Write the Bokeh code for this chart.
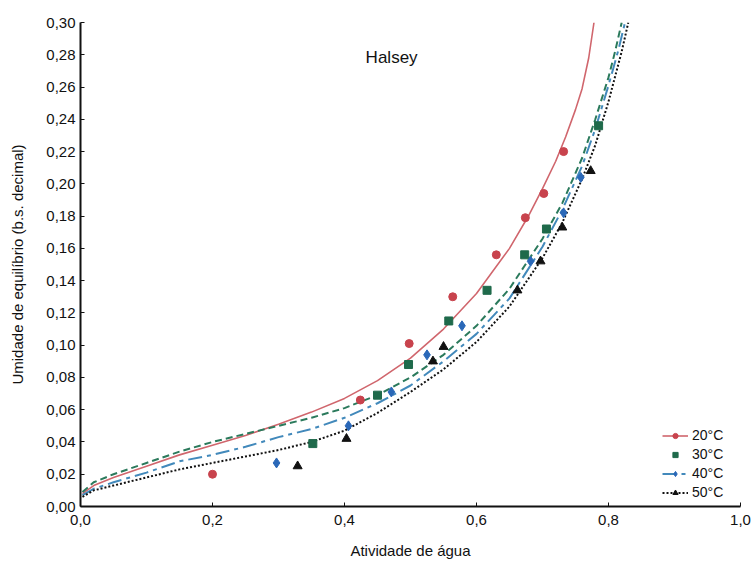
from bokeh.plotting import figure
from bokeh.models import Range1d, CustomJSTickFormatter, Label, Legend, LegendItem, FixedTicker
from bokeh.embed import file_html
from bokeh.resources import INLINE

# Experimental points: water activity (aw) and equilibrium moisture (d.b.)
aw_20 = [0.200, 0.424, 0.498, 0.564, 0.630, 0.674, 0.702, 0.732]
x_20 = [0.020, 0.066, 0.101, 0.130, 0.156, 0.179, 0.194, 0.220]

aw_30 = [0.352, 0.450, 0.497, 0.558, 0.616, 0.673, 0.706, 0.785]
x_30 = [0.039, 0.069, 0.088, 0.115, 0.134, 0.156, 0.172, 0.236]

aw_40 = [0.297, 0.406, 0.471, 0.525, 0.578, 0.682, 0.732, 0.758]
x_40 = [0.027, 0.050, 0.071, 0.094, 0.112, 0.152, 0.182, 0.204]

aw_50 = [0.329, 0.403, 0.534, 0.550, 0.662, 0.697, 0.730, 0.773]
x_50 = [0.025, 0.042, 0.090, 0.099, 0.134, 0.152, 0.173, 0.208]

# Halsey model curves
c_aw_20 = [0.003, 0.02, 0.05, 0.10, 0.15, 0.20, 0.25, 0.30, 0.35, 0.40, 0.45, 0.50,
           0.55, 0.60, 0.65, 0.68, 0.70, 0.72, 0.735, 0.75, 0.76, 0.77, 0.778]
c_x_20 = [0.008, 0.013, 0.018, 0.025, 0.032, 0.038, 0.044, 0.051, 0.0585, 0.067, 0.078, 0.092,
          0.110, 0.132, 0.160, 0.181, 0.197, 0.214, 0.229, 0.246, 0.259, 0.278, 0.300]

c_aw_30 = [0.003, 0.02, 0.05, 0.10, 0.15, 0.20, 0.25, 0.30, 0.35, 0.40, 0.45, 0.50,
           0.55, 0.60, 0.65, 0.70, 0.73, 0.76, 0.78, 0.80, 0.81, 0.82]
c_x_30 = [0.009, 0.015, 0.020, 0.027, 0.034, 0.040, 0.045, 0.050, 0.055, 0.061, 0.069, 0.080,
          0.094, 0.112, 0.135, 0.166, 0.188, 0.216, 0.240, 0.266, 0.282, 0.300]

c_aw_40 = [0.003, 0.02, 0.05, 0.10, 0.15, 0.20, 0.25, 0.30, 0.35, 0.40, 0.45, 0.50,
           0.55, 0.60, 0.65, 0.70, 0.73, 0.76, 0.78, 0.80, 0.815, 0.825]
c_x_40 = [0.007, 0.011, 0.015, 0.021, 0.028, 0.032, 0.037, 0.043, 0.048, 0.055, 0.064, 0.075,
          0.090, 0.107, 0.129, 0.161, 0.184, 0.211, 0.234, 0.261, 0.283, 0.300]

c_aw_50 = [0.003, 0.02, 0.05, 0.10, 0.15, 0.20, 0.25, 0.30, 0.35, 0.40, 0.45, 0.50,
           0.55, 0.60, 0.65, 0.70, 0.73, 0.76, 0.78, 0.80, 0.82, 0.83]
c_x_50 = [0.006, 0.010, 0.013, 0.018, 0.023, 0.027, 0.031, 0.035, 0.040, 0.047, 0.058, 0.071,
          0.085, 0.102, 0.124, 0.154, 0.176, 0.203, 0.224, 0.251, 0.282, 0.300]

x_ticks = [0.0, 0.2, 0.4, 0.6, 0.8, 1.0]
y_ticks = [0.00, 0.02, 0.04, 0.06, 0.08, 0.10, 0.12, 0.14, 0.16, 0.18, 0.20,
           0.22, 0.24, 0.26, 0.28, 0.30]

FONT = "Liberation Sans"

p = figure(width=755, height=562, output_backend="svg", toolbar_location=None,
           x_range=Range1d(0, 1), y_range=Range1d(0, 0.30),
           min_border_left=80, min_border_right=15, min_border_top=22, min_border_bottom=56)
p.outline_line_color = None
p.grid.visible = False
p.background_fill_color = "white"
p.border_fill_color = "white"

for ax in (p.xaxis[0], p.yaxis[0]):
    ax.axis_line_color = "#111111"
    ax.axis_line_width = 2
    ax.major_tick_line_color = "#111111"
    ax.major_tick_in = 4
    ax.major_tick_out = 0
    ax.minor_tick_line_color = None
    ax.major_label_text_font = FONT
    ax.major_label_text_font_size = "15px"
    ax.major_label_text_color = "#111111"
    ax.axis_label_text_font = FONT
    ax.axis_label_text_font_size = "15px"
    ax.axis_label_text_font_style = "normal"
    ax.axis_label_text_color = "#111111"

p.xaxis.ticker = FixedTicker(ticks=x_ticks)
p.yaxis.ticker = FixedTicker(ticks=y_ticks)
p.xaxis.formatter = CustomJSTickFormatter(code="return tick.toFixed(1).replace('.', ',');")
p.yaxis.formatter = CustomJSTickFormatter(code="return tick.toFixed(2).replace('.', ',');")
p.xaxis.axis_label = "Atividade de água"
p.yaxis.axis_label = "Umidade de equilíbrio (b.s. decimal)"
p.xaxis.major_label_standoff = 8
p.xaxis.axis_label_standoff = 14
p.yaxis.major_label_standoff = 5
p.yaxis.axis_label_standoff = 17

RED, GREEN, BLUE, BLACK = "#c8434d", "#1f6a4b", "#2a68b8", "#111111"

l20 = p.line(c_aw_20, c_x_20, line_color="#d0666d", line_width=1.6)
l30 = p.line(c_aw_30, c_x_30, line_color="#2b7a5c", line_width=2, line_dash="7 4")
l40 = p.line(c_aw_40, c_x_40, line_color="#4289bb", line_width=2, line_dash="14 5 4 5")
l50 = p.line(c_aw_50, c_x_50, line_color=BLACK, line_width=2, line_dash="2 2")

s20 = p.scatter(aw_20, x_20, marker="circle", size=8, fill_color=RED, line_color=RED)
s30 = p.scatter(aw_30, x_30, marker="square", size=8, fill_color=GREEN, line_color=GREEN)
s40 = p.scatter(aw_40, x_40, marker="diamond", size=10, fill_color=BLUE, line_color=BLUE)
s50 = p.scatter(aw_50, x_50, marker="triangle", size=9, fill_color=BLACK, line_color=BLACK)

legend = Legend(items=[
    LegendItem(label="20°C", renderers=[l20, s20]),
    LegendItem(label="30°C", renderers=[s30]),
    LegendItem(label="40°C", renderers=[l40, s40]),
    LegendItem(label="50°C", renderers=[l50, s50]),
], location=(582, 6))
legend.border_line_color = None
legend.background_fill_alpha = 0
legend.label_text_font = FONT
legend.label_text_font_size = "14px"
legend.label_text_color = "#111111"
legend.glyph_width = 26
legend.glyph_height = 13
legend.spacing = 3
legend.label_standoff = 4
legend.padding = 4
p.add_layout(legend)

p.add_layout(Label(x=0.432, y=0.278, text="Halsey", text_font=FONT, text_font_size="17px",
                   text_baseline="middle", text_color="#111111"))

open("out.html", "w").write(file_html(p, INLINE))
